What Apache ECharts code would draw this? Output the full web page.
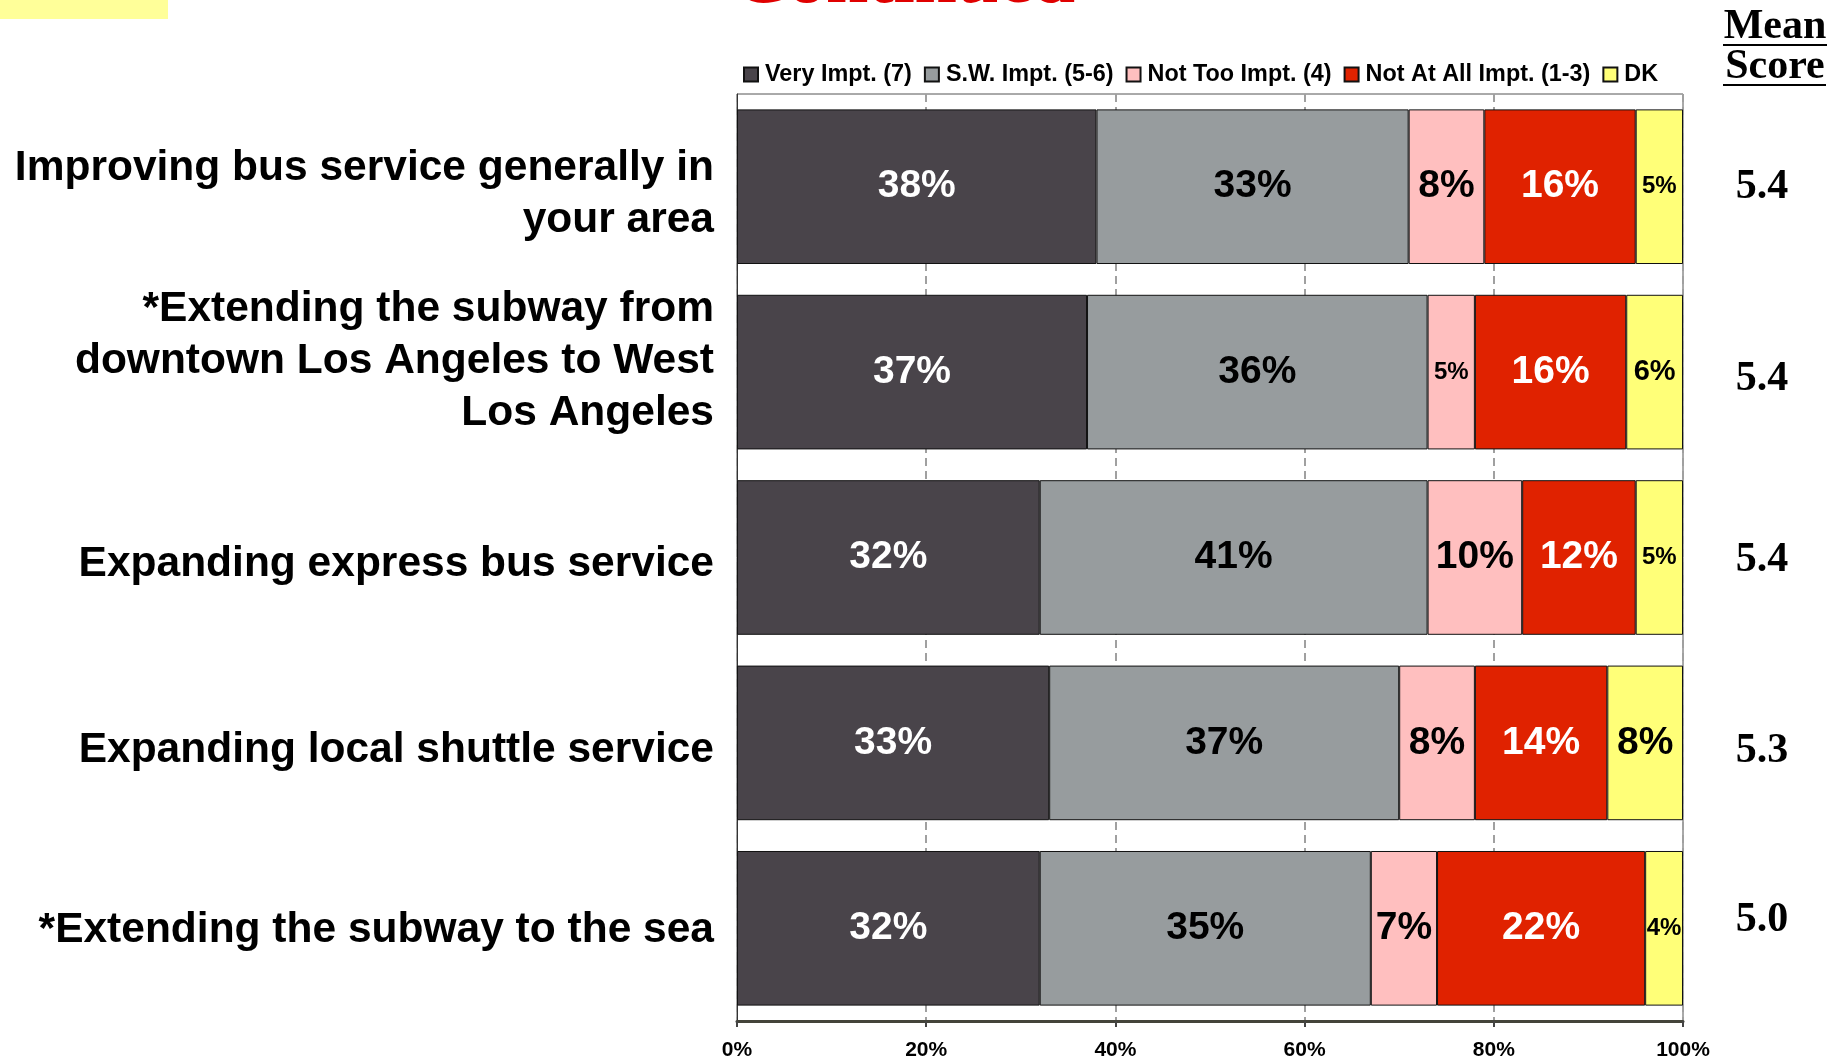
<!DOCTYPE html>
<html>
<head>
<meta charset="utf-8">
<script src="https://cdn.jsdelivr.net/npm/echarts@6/dist/echarts.min.js"></script>
<style>
html,body{margin:0;padding:0;background:#fff;}
#chart{width:1845px;height:1061px;}
</style>
</head>
<body>
<div id="chart"></div>
<script>
const categories = [
  'Improving bus service generally in\nyour area',
  '*Extending the subway from\ndowntown Los Angeles to West\nLos Angeles',
  'Expanding express bus service',
  'Expanding local shuttle service',
  '*Extending the subway to the sea'
];
const seriesNames = ['Very Impt. (7)', 'S.W. Impt. (5-6)', 'Not Too Impt. (4)', 'Not At All Impt. (1-3)', 'DK'];
const veryImpt   = [38, 37, 32, 33, 32];
const swImpt     = [33, 36, 41, 37, 35];
const notTooImpt = [8, 5, 10, 8, 7];
const notAtAll   = [16, 16, 12, 14, 22];
const dk         = [5, 6, 5, 8, 4];
const meanScores = ['5.4', '5.4', '5.4', '5.3', '5.0'];
const xTicks = [0, 20, 40, 60, 80, 100];

// layout tuning (vertical nudges of text blocks, px; + = down)
const catLabelShift = [8, -11, 7, 7, 2];
const meanLabelShift = [0, 7, 3, 8, -8];

const colors = ['#49444a', '#979c9e', '#ffbfbf', '#e02200', '#ffff78'];
const labelColors = ['#fff', '#000', '#000', '#fff', '#000'];
const SANS = '"Liberation Sans", Arial, sans-serif';
const SERIF = '"Liberation Serif", "Times New Roman", serif';

const chart = echarts.init(document.getElementById('chart'));
const values = [veryImpt, swImpt, notTooImpt, notAtAll, dk];

function labelRich(color) {
  return {
    l: {fontSize: 39, fontWeight: 'bold', fontFamily: SANS, color: color},
    m: {fontSize: 29, fontWeight: 'bold', fontFamily: SANS, color: color},
    s: {fontSize: 24, fontWeight: 'bold', fontFamily: SANS, color: color}
  };
}

function shifted(text, shift, tag) {
  const lines = text.split('\n').map(l => '{' + tag + '|' + l + '}');
  const n = Math.round(Math.abs(shift) * 2);
  if (n === 0) return lines.join('\n');
  const sp = '{sp' + n + '| }';
  return shift > 0 ? [sp].concat(lines).join('\n') : lines.concat([sp]).join('\n');
}
function spacerRich(shifts) {
  const r = {};
  shifts.forEach(s => {
    const n = Math.round(Math.abs(s) * 2);
    if (n) r['sp' + n] = {fontSize: 1, lineHeight: n};
  });
  return r;
}

const series = values.map((vals, i) => ({
  name: seriesNames[i],
  type: 'bar',
  stack: 'total',
  yAxisIndex: 0,
  barCategoryGap: '16.6%',
  data: vals,
  itemStyle: {color: colors[i], borderColor: '#111', borderWidth: 1},
  label: {
    show: true,
    position: 'inside',
    formatter: p => {
      const t = p.value + '%';
      if (p.value <= 5) return '{s|' + t + '}';
      if (p.value === 6) return '{m|' + t + '}';
      return '{l|' + t + '}';
    },
    rich: labelRich(labelColors[i])
  },
  emphasis: {disabled: true}
}));

const catRich = Object.assign({
  c: {fontFamily: SANS, fontWeight: 'bold', fontSize: 42.5, color: '#000', lineHeight: 52, align: 'right'}
}, spacerRich(catLabelShift));
const meanRich = Object.assign({
  m: {fontFamily: SERIF, fontWeight: 'bold', fontSize: 42, color: '#000', lineHeight: 48, align: 'center'}
}, spacerRich(meanLabelShift));

const option = {
  animation: false,
  backgroundColor: '#fff',
  graphic: [
    {type: 'rect', left: 0, top: 0, shape: {width: 168, height: 19}, style: {fill: '#ffff99'}, silent: true},
    {type: 'text', x: 733, y: 20, style: {text: 'Continued', font: 'bold 76px ' + SERIF, fill: '#e00000', align: 'left', verticalAlign: 'bottom',
      shadowColor: '#000', shadowOffsetX: 3, shadowOffsetY: 3, shadowBlur: 0}},
    {type: 'text', x: 1775, y: 27, style: {text: 'Mean', font: 'bold 42px ' + SERIF, fill: '#000', align: 'center', verticalAlign: 'middle'}},
    {type: 'text', x: 1775, y: 67, style: {text: 'Score', font: 'bold 42px ' + SERIF, fill: '#000', align: 'center', verticalAlign: 'middle'}},
    {type: 'line', shape: {x1: 1723, y1: 45, x2: 1827, y2: 45}, style: {stroke: '#000', lineWidth: 2}},
    {type: 'line', shape: {x1: 1723, y1: 85, x2: 1826, y2: 85}, style: {stroke: '#000', lineWidth: 2}}
  ],
  legend: {
    data: seriesNames,
    left: 738,
    top: 58,
    icon: 'rect',
    itemWidth: 14,
    itemHeight: 14,
    itemGap: 12,
    selectedMode: false,
    textStyle: {fontFamily: SANS, fontWeight: 'bold', fontSize: 23.4, color: '#000', padding: [0, 0, 0, 2]}
  },
  grid: {
    left: 737, top: 94, width: 946, height: 927,
    show: true, borderColor: '#555', borderWidth: 1, backgroundColor: 'transparent'
  },
  xAxis: {
    type: 'value',
    min: xTicks[0], max: xTicks[xTicks.length - 1], interval: xTicks[1] - xTicks[0],
    axisLine: {show: true, lineStyle: {color: '#44443a', width: 3}},
    axisTick: {show: true, length: 6, lineStyle: {color: '#444', width: 2}},
    axisLabel: {formatter: '{value}%', fontFamily: SANS, fontWeight: 'bold', fontSize: 21, color: '#000', margin: 19},
    splitLine: {show: true, lineStyle: {color: '#a0a0a0', width: 2, type: [8, 5]}}
  },
  yAxis: [
    {
      type: 'category',
      data: categories,
      inverse: true,
      axisLine: {show: true, lineStyle: {color: '#333', width: 1}},
      axisTick: {show: false},
      axisLabel: {
        margin: 23, align: 'right',
        formatter: (v, idx) => shifted(v, catLabelShift[idx], 'c'),
        rich: catRich
      }
    },
    {
      type: 'category',
      data: meanScores,
      inverse: true,
      position: 'right',
      axisLine: {show: false},
      axisTick: {show: false},
      axisLabel: {
        align: 'center', margin: 79,
        formatter: (v, idx) => shifted(v, meanLabelShift[idx], 'm'),
        rich: meanRich
      }
    }
  ],
  series: series
};
chart.setOption(option);
</script>
</body>
</html>
